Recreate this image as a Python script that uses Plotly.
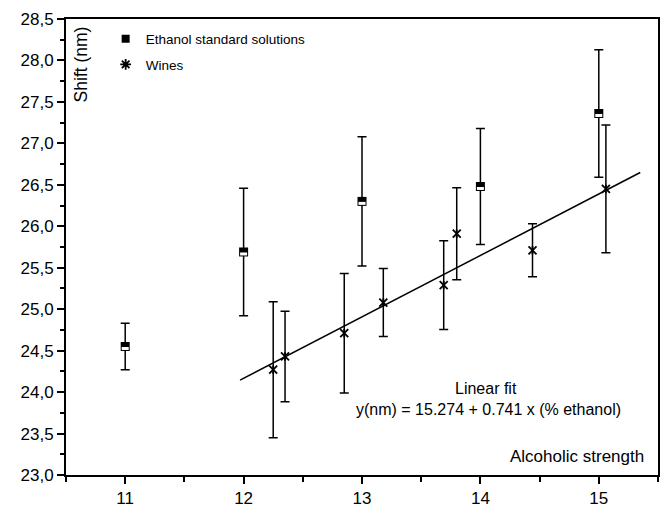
import plotly.graph_objects as go

# ---- data ----
eth_x = [11, 12, 13, 14, 15]
eth_y = [24.55, 25.69, 26.30, 26.48, 27.36]
eth_err = [0.28, 0.77, 0.78, 0.70, 0.77]

wine_x = [12.25, 12.35, 12.85, 13.18, 13.69, 13.80, 14.44, 15.06]
wine_y = [24.27, 24.43, 24.71, 25.08, 25.29, 25.91, 25.71, 26.45]
wine_err = [0.82, 0.545, 0.72, 0.41, 0.535, 0.555, 0.32, 0.77]

fit_a = 15.274
fit_b = 0.741
fit_x = [11.97, 15.35]
fit_y = [fit_a + fit_b * v for v in fit_x]

x_ticks = [11, 12, 13, 14, 15]
y_ticks = [23.0, 23.5, 24.0, 24.5, 25.0, 25.5, 26.0, 26.5, 27.0, 27.5, 28.0, 28.5]

FONT = "Liberation Sans, Arial, sans-serif"

fig = go.Figure()

# fit line
fig.add_trace(go.Scatter(x=fit_x, y=fit_y, mode="lines",
                         line=dict(color="black", width=1.5),
                         showlegend=False, hoverinfo="skip"))

# ethanol standards: error bars + black square
fig.add_trace(go.Scatter(
    x=eth_x, y=eth_y, mode="markers",
    marker=dict(symbol="square", size=9, color="black",
                line=dict(color="black", width=0)),
    error_y=dict(type="data", array=eth_err, visible=True,
                 color="black", thickness=1.5, width=4.5),
    showlegend=False))
# white lower half of the square
fig.add_trace(go.Scatter(
    x=eth_x, y=[v - 0.024 for v in eth_y], mode="markers",
    marker=dict(symbol="line-ew-open", size=5, color="white",
                line=dict(color="white", width=3)),
    showlegend=False, hoverinfo="skip"))

# wines: error bars + 6-armed asterisk
fig.add_trace(go.Scatter(
    x=wine_x, y=wine_y, mode="markers",
    marker=dict(symbol="x-thin-open", size=8, color="black",
                line=dict(color="black", width=1.8)),
    error_y=dict(type="data", array=wine_err, visible=True,
                 color="black", thickness=1.5, width=4.5),
    showlegend=False))
fig.add_trace(go.Scatter(
    x=wine_x, y=wine_y, mode="markers",
    marker=dict(symbol="line-ns-open", size=6, color="black",
                line=dict(color="black", width=1.8)),
    showlegend=False, hoverinfo="skip"))

# legend-only entries
fig.add_trace(go.Scatter(
    x=[None], y=[None], mode="markers", name="Ethanol standard solutions",
    marker=dict(symbol="square", size=8, color="black"),
    legendgroup="a"))
fig.add_trace(go.Scatter(
    x=[None], y=[None], mode="markers", name="Wines",
    marker=dict(symbol="asterisk-open", size=9, color="black",
                line=dict(color="black", width=1.8)),
    legendgroup="b"))

axis_common = dict(showline=True, linecolor="black", linewidth=2, mirror=True,
                   ticks="outside", tickcolor="black", tickwidth=1.5, ticklen=7,
                   showgrid=False, zeroline=False,
                   tickfont=dict(family=FONT, size=17, color="black"))

fig.update_xaxes(range=[10.5, 15.5], tickvals=x_ticks, **axis_common,
                 minor=dict(ticks="outside", ticklen=5, tickcolor="black",
                            tickwidth=1.5, dtick=0.5, tick0=10.5, showgrid=False))
fig.update_yaxes(range=[23, 28.5], tickvals=y_ticks, tickformat=".1f",
                 **axis_common,
                 minor=dict(ticks="outside", ticklen=4, tickcolor="black",
                            tickwidth=1.5, dtick=0.25, tick0=23, showgrid=False))

ann_font = dict(family=FONT, size=16, color="black")
fig.update_layout(
    width=665, height=513,
    margin=dict(l=66, r=5, t=19, b=31),
    paper_bgcolor="white", plot_bgcolor="white",
    separators=",.",
    showlegend=True,
    legend=dict(x=0.067, y=0.99, xanchor="left", yanchor="top",
                bgcolor="rgba(0,0,0,0)", borderwidth=0,
                font=dict(family=FONT, size=13.5, color="black"),
                tracegroupgap=5, itemwidth=30, traceorder="grouped"),
    annotations=[
        dict(text="Shift (nm)", xref="paper", yref="paper", x=0.025, y=0.9,
             xanchor="center", yanchor="middle", textangle=-90, showarrow=False,
             font=dict(family=FONT, size=17.5, color="black")),
        dict(text="Alcoholic strength", xref="paper", yref="paper",
             x=(648 - 66) / 594, y=(482 - 463) / 463,
             xanchor="right", yanchor="middle", showarrow=False,
             font=dict(family=FONT, size=17, color="black")),
        dict(text="Linear fit", xref="paper", yref="paper",
             x=(487 - 66) / 594, y=(482 - 394) / 463,
             xanchor="center", yanchor="middle", showarrow=False, font=ann_font),
        dict(text="y(nm) = 15.274 + 0.741 x (% ethanol)", xref="paper", yref="paper",
             x=(490 - 66) / 594, y=(482 - 416) / 463,
             xanchor="center", yanchor="middle", showarrow=False, font=ann_font),
    ],
)

fig.write_html("out.html")
